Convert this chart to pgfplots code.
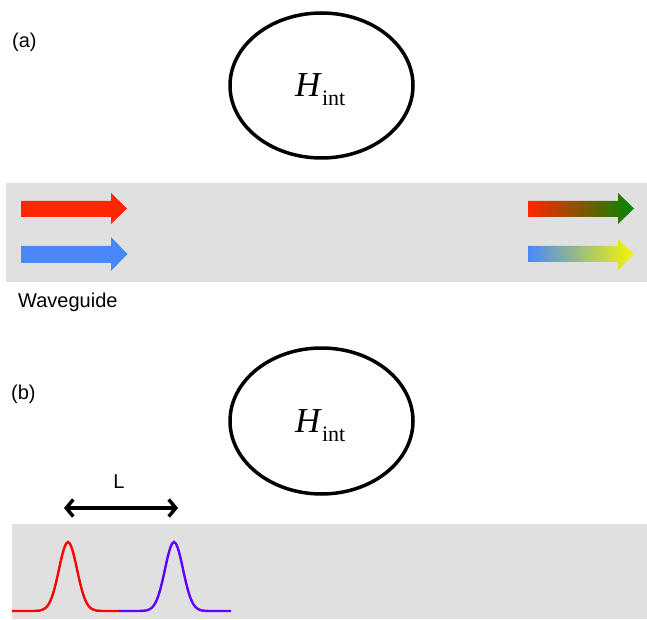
\documentclass[border=0pt]{standalone}
\usepackage{pgfplots}
\pgfplotsset{compat=1.18}
\usepackage{fontspec}
\setmainfont{Liberation Sans}
\newfontfamily\serifH{Liberation Serif}
\usetikzlibrary{arrows.meta}
\definecolor{wg}{RGB}{224,224,224}
\definecolor{arrred}{RGB}{255,38,0}
\definecolor{arrblue}{RGB}{72,136,250}
\definecolor{dgreen}{RGB}{0,136,0}
\definecolor{yel}{RGB}{248,245,0}
\definecolor{pulsered}{RGB}{255,0,0}
\definecolor{pulsepurple}{RGB}{96,0,255}
\begin{document}
\begin{tikzpicture}
\begin{axis}[x=1pt, y=1pt, xmin=0, xmax=647, ymin=0, ymax=619,
  hide axis, scale only axis, clip=false]
\path (rel axis cs:0,0) rectangle (rel axis cs:1,1);
% waveguides
\addplot[draw=none, fill=wg] coordinates {(6,337) (647,337) (647,436) (6,436) (6,337)};
\addplot[draw=none, fill=wg] coordinates {(12,0) (647,0) (647,95) (12,95) (12,0)};
% input arrows
\addplot[draw=none, fill=arrred] coordinates {(21,402) (111,402) (111,395) (127,410.5) (111,426) (111,418) (21,418) (21,402)};
\addplot[draw=none, fill=arrblue] coordinates {(21,356) (111,356) (111,348) (127.5,365) (111,382) (111,373) (21,373) (21,356)};
% output arrows
\addplot[draw=none, left color=arrred, right color=dgreen] coordinates {(528,402) (618,402) (618,395) (634,410.5) (618,426) (618,418) (528,418) (528,402)};
\addplot[draw=none, left color=arrblue, right color=yel] coordinates {(528,357) (618,357) (618,349) (634,364.5) (618,380) (618,373) (528,373) (528,357)};
% pulses
\addplot[pulsered, line width=2.4pt] coordinates {(12,8)(32,8)(36,8.1)(40,8.5)(42,9.1)(44,10.0)(46,11.5)(48,13.8)(50,17.3)(52,22.2)(54,28.6)(56,36.4)(58,45.2)(60,54.5)(62,63.2)(64,70.5)(66,75.3)(68,77)(70,75.3)(72,70.5)(74,63.2)(76,54.5)(78,45.2)(80,36.4)(82,28.6)(84,22.2)(86,17.3)(88,13.8)(90,11.5)(92,10.0)(94,9.1)(96,8.5)(100,8.1)(104,8)(119,8)};
\addplot[pulsepurple, line width=2.4pt] coordinates {(119,8)(138,8)(142,8.1)(146,8.5)(148,9.1)(150,10.0)(152,11.5)(154,13.8)(156,17.3)(158,22.2)(160,28.6)(162,36.4)(164,45.2)(166,54.5)(168,63.2)(170,70.5)(172,75.3)(174,77)(176,75.3)(178,70.5)(180,63.2)(182,54.5)(184,45.2)(186,36.4)(188,28.6)(190,22.2)(192,17.3)(194,13.8)(196,11.5)(198,10.0)(200,9.1)(202,8.5)(206,8.1)(210,8)(231,8)};
% interaction regions
\draw[line width=3.5pt] (axis cs:321.5,533.5) ellipse [x radius=91.5, y radius=72.5];
\draw[line width=3.5pt] (axis cs:321.5,198) ellipse [x radius=91.5, y radius=73];
\node[anchor=base west, inner sep=0pt] at (axis cs:295,522) {\serifH\fontsize{35}{35}\selectfont\textit{H}\raisebox{-9pt}{\fontsize{22}{22}\selectfont int}};
\node[anchor=base west, inner sep=0pt] at (axis cs:295,187) {\serifH\fontsize{35}{35}\selectfont\textit{H}\raisebox{-9pt}{\fontsize{22}{22}\selectfont int}};
% L arrow
\draw[line width=3.5pt, {Straight Barb[length=7pt,width=17pt]}-{Straight Barb[length=7pt,width=17pt]}] (axis cs:64,111) -- (axis cs:178,111);
% labels
\node[anchor=base, inner sep=0pt] at (axis cs:119,131) {\fontsize{20}{20}\selectfont L};
\node[anchor=base west, inner sep=0pt] at (axis cs:12,571) {\fontsize{20}{20}\selectfont (a)};
\node[anchor=base west, inner sep=0pt] at (axis cs:11,220) {\fontsize{20}{20}\selectfont (b)};
\node[anchor=base west, inner sep=0pt] at (axis cs:18,311.5) {\fontsize{20}{20}\selectfont Waveguide};
\end{axis}
\end{tikzpicture}
\end{document}
